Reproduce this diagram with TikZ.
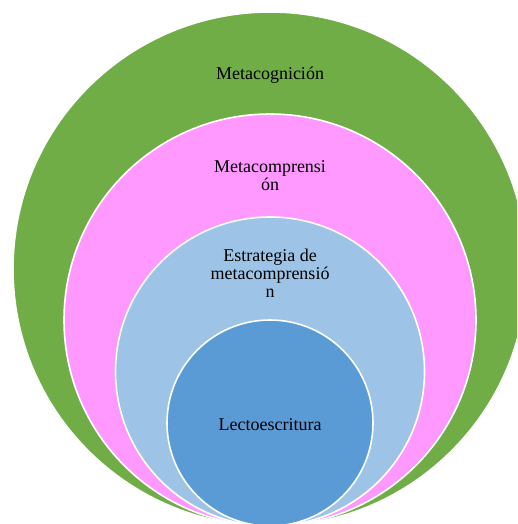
\documentclass[tikz,border=0pt]{standalone}
\usepackage{fontspec}
\setmainfont{Liberation Serif}
\definecolor{cgreen}{HTML}{70AD47}
\definecolor{cpink}{HTML}{FF99FF}
\definecolor{clblue}{HTML}{9DC3E6}
\definecolor{cdblue}{HTML}{5B9BD5}
\tikzset{
  ring/.style={circle, draw=white, line width=1.6pt, inner sep=0pt, outer sep=0pt},
  lbl/.style={font=\fontsize{18}{18}\selectfont, text=black, align=center, inner sep=0pt, anchor=base}
}
\begin{document}
\begin{tikzpicture}[x=1pt,y=-1pt]
\useasboundingbox (0,0) rectangle (517,524);
\clip (0,0) rectangle (517,524);
\node[ring, fill=cgreen, minimum size=514pt] (c1) at (270,269) {};
\node[ring, fill=cpink, minimum size=412pt] (c2) at (270,320) {};
\node[ring, fill=clblue, minimum size=309pt] (c3) at (270,371.5) {};
\node[ring, fill=cdblue, minimum size=206pt] (c4) at (270,423) {};
\node[lbl] (t1) at (270,80) {Metacognición};
\node[lbl] (t2) at (270,190) {Metacomprensi\\ón};
\node[lbl] (t3) at (270,297) {Estrategia de\\metacomprensió\\n};
\node[lbl] (t4) at (270,430) {Lectoescritura};
\end{tikzpicture}
\end{document}
